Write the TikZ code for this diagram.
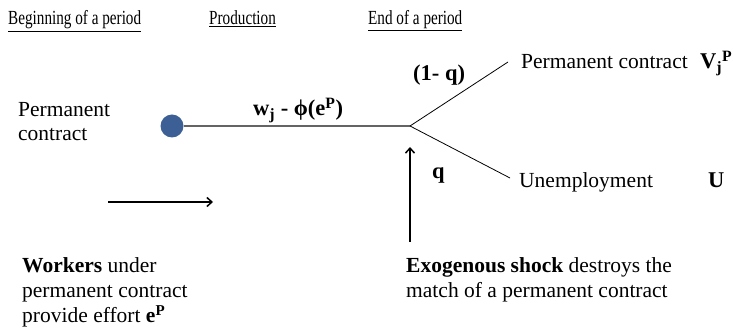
\documentclass[tikz,border=0pt]{standalone}
\usepackage{fontspec}
\setmainfont{Liberation Serif}
\newfontfamily\hdrfont[FakeStretch=0.76]{Liberation Serif}
\usetikzlibrary{arrows.meta}
\definecolor{dotblue}{RGB}{60,96,150}
\definecolor{linegray}{RGB}{100,100,100}
\begin{document}
\begin{tikzpicture}[x=1pt,y=-1pt,
  hdr/.style={anchor=base west,inner sep=0pt,font=\hdrfont\fontsize{20}{22}\selectfont},
  txt/.style={anchor=base west,inner sep=0pt,font=\fontsize{21.5}{24.7}\selectfont},
  lbl/.style={anchor=base west,inner sep=0pt,font=\bfseries\fontsize{22.5}{25}\selectfont},
  arr/.style={line width=1.5pt,-{Straight Barb[length=5pt,width=9pt]}}]
\useasboundingbox (0,0) rectangle (733,328);
% headers
\node[hdr] (h1) at (8,25) {\underline{Beginning of a period}};
\node[hdr] (h2) at (209,25) {\underline{Production}};
\node[hdr] (h3) at (368,25) {\underline{End of a period}};
% left state
\node[txt] (pc1) at (18,117) {Permanent};
\node[txt] (pc2) at (18,141) {contract};
\node[circle,fill=dotblue,minimum size=23pt,inner sep=0pt] (dot) at (172,126) {};
\coordinate (fork) at (410,126);
\coordinate (upend) at (508,62);
\coordinate (downend) at (510,178);
\draw[linegray,line width=1.4pt] (dot.east) -- (fork);
\draw[line width=0.8pt] (fork) -- (upend);
\draw[line width=0.8pt] (fork) -- (downend);
% labels
\node[lbl] (wage) at (253,116) {w\textsubscript{j} - ϕ(e\textsuperscript{P})};
\node[lbl] (oneq) at (413,81) {(1- q)};
\node[lbl] (q) at (432,179) {q};
% outcomes
\node[txt] (pcr) at (521,69) {Permanent contract};
\node[lbl] (V) at (700,69) {V\textsubscript{j}\textsuperscript{P}};
\node[txt] (un) at (519,188) {Unemployment};
\node[lbl] (U) at (708,188) {U};
% arrows
\coordinate (shockbot) at (410,242);
\coordinate (shocktop) at (410,147);
\draw[arr] (shockbot) -- (shocktop);
\coordinate (ra1) at (108,202);
\coordinate (ra2) at (213,202);
\draw[arr] (ra1) -- (ra2);
% bottom texts
\node[txt] (w1) at (22,273) {\textbf{Workers} under};
\node[txt] (w2) at (22,298) {permanent contract};
\node[txt] (w3) at (22,323) {provide effort \textbf{e\textsuperscript{P}}};
\node[txt] (x1) at (406,273) {\textbf{Exogenous shock} destroys the};
\node[txt] (x2) at (406,298) {match of a permanent contract};
\end{tikzpicture}
\end{document}
